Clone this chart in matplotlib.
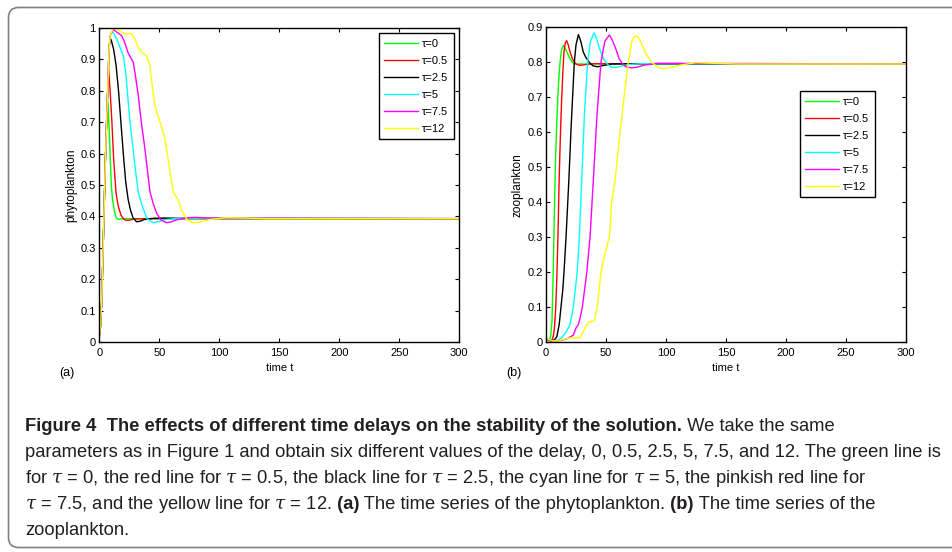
import numpy as np
import matplotlib.pyplot as plt
from matplotlib.path import Path
from matplotlib.patches import PathPatch
from matplotlib.transforms import IdentityTransform

plt.rcParams['font.family'] = ['Liberation Sans', 'DejaVu Sans']
plt.rcParams['mathtext.fontset'] = 'custom'
plt.rcParams['mathtext.it'] = 'DejaVu Serif:italic'
plt.rcParams['mathtext.rm'] = 'Liberation Sans'

# delays and legend labels
taus = ['0', '0.5', '2.5', '5', '7.5', '12']
colors = [(0, 1, 0), (1, 0, 0), (0, 0, 0), (0, 1, 1), (1, 0, 1), (1, 1, 0)]

# (a) phytoplankton
p_t0 = [0, 1, 2, 3, 4, 5, 6, 7.2, 8, 9, 10, 11, 12, 13, 14, 15, 17, 20, 25, 300]
p_v0 = [0.02, 0.05, 0.13, 0.27, 0.42, 0.57, 0.69, 0.765, 0.70, 0.60, 0.50, 0.455, 0.43, 0.41, 0.397, 0.392, 0.391, 0.393, 0.393, 0.393]
p_t1 = [0, 1, 2, 3, 4, 5, 6, 7, 7.7, 9, 10.5, 12, 13.9, 15, 16, 18, 20, 22, 25, 28, 35, 300]
p_v1 = [0.02, 0.05, 0.13, 0.27, 0.42, 0.57, 0.69, 0.80, 0.87, 0.80, 0.70, 0.58, 0.477, 0.45, 0.43, 0.405, 0.393, 0.388, 0.388, 0.391, 0.393, 0.393]
p_t2 = [0, 1, 2, 3, 4, 5, 6, 7, 8, 8.9, 10, 12, 14, 16, 18, 20, 22, 24, 26, 28, 31, 34, 38, 45, 55, 70, 300]
p_v2 = [0.02, 0.05, 0.13, 0.27, 0.42, 0.57, 0.69, 0.80, 0.92, 0.968, 0.96, 0.93, 0.88, 0.80, 0.70, 0.60, 0.51, 0.455, 0.42, 0.397, 0.383, 0.385, 0.391, 0.394, 0.395, 0.394, 0.393]
p_t3 = [0, 1, 2, 3, 4, 5, 6, 7, 8, 9, 10.3, 12, 15, 18, 20, 22, 24, 25.6, 28, 30, 32.5, 34, 37, 40, 45, 50, 55, 65, 300]
p_v3 = [0.02, 0.05, 0.13, 0.27, 0.42, 0.57, 0.69, 0.80, 0.92, 0.975, 0.987, 0.982, 0.96, 0.93, 0.91, 0.86, 0.77, 0.70, 0.62, 0.55, 0.477, 0.455, 0.42, 0.392, 0.38, 0.384, 0.39, 0.394, 0.393]
p_t4 = [0, 1, 2, 3, 4, 5, 6, 7, 8, 9, 11.7, 15, 18.6, 21, 24, 28.3, 30, 32.5, 35, 38, 40, 42.3, 45, 47.8, 51, 56, 60, 65, 72, 80, 90, 300]
p_v4 = [0.02, 0.05, 0.13, 0.27, 0.42, 0.57, 0.69, 0.80, 0.92, 0.975, 0.994, 0.985, 0.975, 0.955, 0.92, 0.89, 0.85, 0.784, 0.70, 0.615, 0.55, 0.477, 0.44, 0.41, 0.39, 0.38, 0.383, 0.39, 0.395, 0.397, 0.395, 0.393]
p_t5 = [0, 1, 2, 3, 4, 5, 6, 7, 8, 9, 11.7, 14, 17.2, 21.4, 25.6, 27.5, 29.8, 32, 35.3, 39.5, 42.3, 44, 46.4, 50.6, 54.8, 58.1, 61.7, 65.8, 68.5, 73, 78.3, 85, 92, 105, 120, 140, 300]
p_v5 = [0.02, 0.05, 0.13, 0.27, 0.42, 0.57, 0.69, 0.80, 0.92, 0.975, 0.999, 0.997, 0.99, 0.98, 0.982, 0.978, 0.964, 0.94, 0.922, 0.911, 0.879, 0.82, 0.752, 0.699, 0.646, 0.562, 0.477, 0.452, 0.42, 0.39, 0.38, 0.383, 0.39, 0.396, 0.395, 0.393, 0.393]

# (b) zooplankton
z_t0 = [0, 2, 3.3, 4, 5, 6, 7, 8, 9, 10, 11, 12, 13, 14.5, 16, 18, 20, 22, 25, 30, 300]
z_v0 = [0.01, 0.004, 0.006, 0.02, 0.06, 0.2, 0.38, 0.53, 0.63, 0.71, 0.77, 0.81, 0.837, 0.848, 0.84, 0.825, 0.81, 0.80, 0.795, 0.795, 0.795]
z_t1 = [0, 3, 5, 6, 7, 8, 9, 10, 11, 12, 13, 14, 15, 16, 17.2, 18.5, 20, 22, 25, 28, 32, 40, 300]
z_v1 = [0.01, 0.004, 0.006, 0.015, 0.04, 0.09, 0.18, 0.31, 0.47, 0.59, 0.69, 0.77, 0.83, 0.855, 0.862, 0.85, 0.83, 0.81, 0.795, 0.791, 0.793, 0.796, 0.795]
z_t2 = [0, 4, 7, 9, 11, 12.5, 14, 15, 16.7, 19, 21, 23.6, 25, 27, 29, 31, 33, 36, 39, 43, 48, 55, 70, 300]
z_v2 = [0.01, 0.003, 0.006, 0.015, 0.05, 0.1, 0.15, 0.2, 0.3, 0.46, 0.62, 0.8, 0.85, 0.879, 0.86, 0.83, 0.815, 0.80, 0.79, 0.787, 0.791, 0.795, 0.796, 0.795]
z_t3 = [0, 5, 10, 13, 17, 20, 22.8, 26, 27.8, 29.7, 32, 34.7, 37, 40, 42, 45, 48, 51, 54, 57.5, 62, 70, 80, 300]
z_v3 = [0.01, 0.003, 0.005, 0.012, 0.03, 0.05, 0.1, 0.2, 0.3, 0.46, 0.65, 0.8, 0.86, 0.884, 0.87, 0.835, 0.81, 0.795, 0.787, 0.785, 0.788, 0.794, 0.796, 0.795]
z_t4 = [0, 5, 12, 18, 22.8, 25, 27, 28.5, 30.3, 34, 36.7, 39.4, 42.5, 45.8, 49, 52.8, 55, 58, 61, 64, 67, 71.4, 76, 82, 92, 105, 300]
z_v4 = [0.01, 0.003, 0.004, 0.01, 0.02, 0.04, 0.05, 0.07, 0.1, 0.2, 0.3, 0.46, 0.65, 0.8, 0.86, 0.878, 0.865, 0.84, 0.81, 0.795, 0.787, 0.784, 0.786, 0.792, 0.797, 0.797, 0.795]
z_t5 = [0, 5, 10, 15, 20, 28.6, 31, 34, 36, 40, 42.8, 45.8, 49, 52.8, 54.7, 57.5, 61.7, 65, 68.6, 71.5, 74, 77, 80, 84, 88, 93, 98, 104, 112, 125, 140, 160, 300]
z_v5 = [0.01, 0.004, 0.003, 0.008, 0.012, 0.012, 0.03, 0.05, 0.057, 0.06, 0.1, 0.2, 0.25, 0.3, 0.4, 0.46, 0.6, 0.7, 0.8, 0.86, 0.875, 0.872, 0.85, 0.82, 0.80, 0.786, 0.782, 0.785, 0.792, 0.799, 0.797, 0.795, 0.795]

phyto = [(p_t0, p_v0), (p_t1, p_v1), (p_t2, p_v2), (p_t3, p_v3), (p_t4, p_v4), (p_t5, p_v5)]
zoo = [(z_t0, z_v0), (z_t1, z_v1), (z_t2, z_v2), (z_t3, z_v3), (z_t4, z_v4), (z_t5, z_v5)]

W, H = 953, 552
fig = plt.figure(figsize=(W / 100, H / 100), dpi=100)

# rounded frame, open on the right where the page was cut
left, top, bottom, r = 8.5, H - 7.5, H - 547.5, 10
verts = [(W + 20, top), (left + r, top), (left, top), (left, top - r),
         (left, bottom + r), (left, bottom), (left + r, bottom), (W + 20, bottom)]
codes = [Path.MOVETO, Path.LINETO, Path.CURVE3, Path.CURVE3,
         Path.LINETO, Path.CURVE3, Path.CURVE3, Path.LINETO]
frame = PathPatch(Path(verts, codes), transform=IdentityTransform(), facecolor='none',
                  edgecolor='#808080', linewidth=1.2)
fig.add_artist(frame)

ax1 = fig.add_axes([99.3 / W, 1 - 342.3 / H, 360 / W, 314.6 / H])
ax2 = fig.add_axes([546 / W, 1 - 342 / H, 360 / W, 314.7 / H])


def draw(ax, data, ymax, ylabel, leg_xy):
    for (t, v), tau, c in zip(data, taus, colors):
        ax.plot(t, v, color=c, lw=1.0, label='τ=' + tau)
    ax.set_xlim(0, 300)
    ax.set_ylim(0, ymax)
    ax.set_xticks(np.arange(0, 301, 50))
    ax.set_yticks(np.round(np.arange(0, ymax + 0.01, 0.1), 1))
    ax.set_yticklabels(['%g' % v for v in ax.get_yticks()])
    ax.tick_params(direction='in', top=True, right=True, length=3, width=0.8, labelsize=8)
    ax.tick_params(axis='x', pad=4)
    ax.tick_params(axis='y', pad=2.5)
    for s in ax.spines.values():
        s.set_linewidth(1.0)
    ax.set_xlabel('time t', fontsize=8)
    ax.xaxis.set_label_coords(0.5, -0.082)
    ax.xaxis.label.set_va('center')
    ax.set_ylabel(ylabel, fontsize=8.5)
    ax.yaxis.set_label_coords(-0.079, 0.5)
    ax.yaxis.label.set_va('center')
    leg = ax.legend(loc='upper right', bbox_to_anchor=(leg_xy[0] / W, 1 - leg_xy[1] / H),
                    bbox_transform=fig.transFigure, fancybox=False, edgecolor='k',
                    framealpha=1, borderaxespad=0, fontsize=8, handlelength=3.0,
                    handletextpad=0.4, labelspacing=0.63, borderpad=0.5)
    leg.get_frame().set_linewidth(1.0)


draw(ax1, phyto, 1.0, 'phytoplankton', (454, 33))
draw(ax2, zoo, 0.9, 'zooplankton', (875, 91))

fig.text(67 / W, 1 - 373 / H, '(a)', ha='center', va='center', fontsize=9)
fig.text(514 / W, 1 - 373 / H, '(b)', ha='center', va='center', fontsize=9)

# caption, drawn piece by piece so bold parts can sit inside a line
cap_font = ['Liberation Sans', 'DejaVu Sans']
cap_color = '#231f20'
renderer = fig.canvas.get_renderer()
line2 = 'parameters as in Figure 1 and obtain six different values of the delay, 0, 0.5, 2.5, 5, 7.5, and 12. The green line is'

# pick the size that gives the second line the same width as in the page
probe = fig.text(0, 0, line2, family=cap_font, fontsize=12)
cap_size = 12 * 918 / probe.get_window_extent(renderer).width
probe.remove()


def caption_line(y_px, parts):
    x = 25
    for s, bold in parts:
        t = fig.text(x / W, 1 - y_px / H, s, ha='left', va='baseline', family=cap_font,
                     fontsize=cap_size, fontweight='bold' if bold else 'normal', color=cap_color)
        x += t.get_window_extent(renderer).width


caption_line(431, [('Figure 4  The effects of different time delays on the stability of the solution.', True),
                   (' We take the same', False)])
caption_line(457, [(line2, False)])
caption_line(483, [(r'for $\tau$ = 0, the red line for $\tau$ = 0.5, the black line for $\tau$ = 2.5, the cyan line for $\tau$ = 5, the pinkish red line for', False)])
caption_line(509, [(r'$\tau$ = 7.5, and the yellow line for $\tau$ = 12.', False), (' (a)', True),
                   (' The time series of the phytoplankton.', False), (' (b)', True),
                   (' The time series of the', False)])
caption_line(535, [('zooplankton.', False)])

fig.savefig('out.png', dpi=100)
